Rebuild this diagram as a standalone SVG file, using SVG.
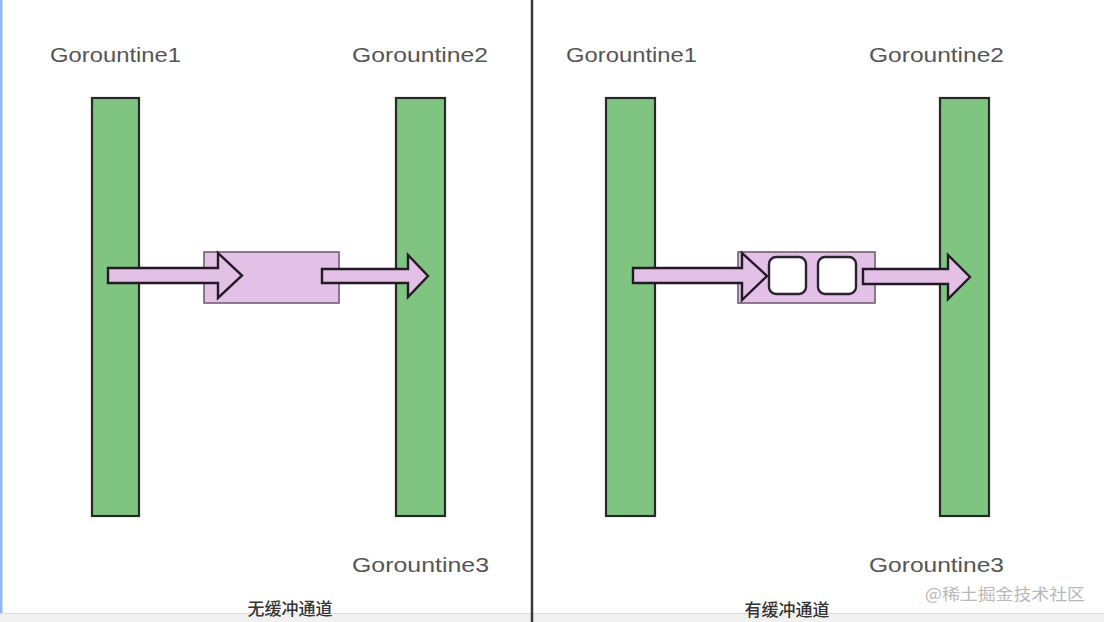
<svg xmlns="http://www.w3.org/2000/svg" width="1104" height="622" viewBox="0 0 1104 622">
<style>
.bar{fill:#7fc581;stroke:#262a26;stroke-width:2.2}
.box{fill:#e3c0e6;stroke:#6e5f70;stroke-width:1.6}
.slot{fill:#ffffff;stroke:#2b2230;stroke-width:2.4}
.arr{fill:#e3c0e6;stroke:#231a26;stroke-width:2.4;stroke-linejoin:miter}
.lbl{font-family:"Liberation Sans",Arial,sans-serif;font-size:21px;fill:#555555}
.cap{font-family:"Noto Sans CJK SC","Noto Sans",sans-serif;font-size:17px;fill:#333333;font-weight:500}
.wm{font-family:"Noto Sans CJK SC","Noto Sans",sans-serif;font-size:16px;fill:#b8b8b8}
</style>
<rect x="0" y="0" width="1104" height="622" fill="#ffffff"/>
<rect x="0" y="0" width="2.5" height="614" fill="#8fb8f0"/>
<rect x="0" y="613" width="1104" height="9" fill="#f1f1f1"/>
<line x1="0" y1="613.5" x2="1104" y2="613.5" stroke="#dcdcdc" stroke-width="1"/>
<line x1="532" y1="0" x2="532" y2="622" stroke="#3a3a3a" stroke-width="2.5"/>

<g id="g1-left">
<text class="lbl" x="50" y="62" textLength="131" lengthAdjust="spacingAndGlyphs">Gorountine1</text>
<rect class="bar" x="92" y="98" width="47" height="418"/>
</g>
<g id="g2-left">
<text class="lbl" x="352" y="62" textLength="136" lengthAdjust="spacingAndGlyphs">Gorountine2</text>
<text class="lbl" x="352" y="572" textLength="137" lengthAdjust="spacingAndGlyphs">Gorountine3</text>
<rect class="bar" x="396" y="98" width="49" height="418"/>
</g>
<g id="chan-left">
<rect class="box" x="204" y="252" width="135" height="51"/>
</g>

<g id="g1-right">
<text class="lbl" x="566" y="62" textLength="131" lengthAdjust="spacingAndGlyphs">Gorountine1</text>
<rect class="bar" x="606" y="98" width="49" height="418"/>
</g>
<g id="g2-right">
<text class="lbl" x="869" y="62" textLength="135" lengthAdjust="spacingAndGlyphs">Gorountine2</text>
<text class="lbl" x="869" y="572" textLength="135" lengthAdjust="spacingAndGlyphs">Gorountine3</text>
<rect class="bar" x="940" y="98" width="49" height="418"/>
</g>
<g id="chan-right">
<rect class="box" x="738" y="252" width="137" height="51"/>
<rect class="slot" x="769" y="257" width="37" height="37" rx="7"/>
<rect class="slot" x="818" y="257" width="38" height="37" rx="7"/>
</g>

<g id="connectors">
<polygon class="arr" points="108,268 218,268 218,253 242,275.5 218,298 218,283 108,283"/>
<polygon class="arr" points="322,269 408,269 408,255 428,276 408,297 408,283 322,283"/>
<polygon class="arr" points="633,268 742,268 742,253 767,276 742,300 742,283 633,283"/>
<polygon class="arr" points="863,269 948,269 948,255 970,277 948,299 948,284 863,284"/>
</g>

<text class="cap" x="290" y="615" text-anchor="middle">无缓冲通道</text>
<text class="cap" x="787" y="616" text-anchor="middle">有缓冲通道</text>
<text class="wm" x="925" y="600" textLength="160" lengthAdjust="spacingAndGlyphs">@稀土掘金技术社区</text>
</svg>
